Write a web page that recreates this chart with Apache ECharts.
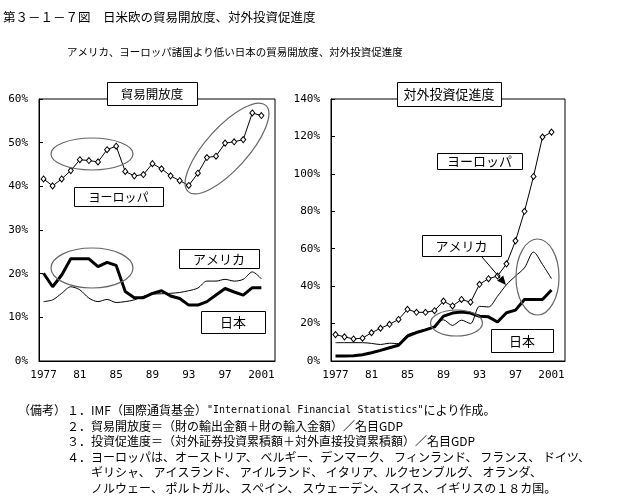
<!DOCTYPE html>
<html><head><meta charset="utf-8">
<script src="https://cdn.jsdelivr.net/npm/echarts@6/dist/echarts.min.js"></script>
<style>html,body{margin:0;padding:0;background:#fff}#c{width:641px;height:496px}</style>
</head><body><div id="c"></div>
<script>
var years = [];
for (var y = 1977; y <= 2002; y++) years.push(String(y));
var yTicksTrade = [0, 60, 10];
var yTicksInv = [0, 140, 20];

// 貿易開放度 (%)
var tradeEurope = [41.7,40.1,41.7,43.6,46.1,45.9,45.6,48.4,49.2,43.4,42.4,42.7,45.2,44.0,42.4,41.3,40.2,43.0,46.6,46.9,49.9,50.2,50.7,56.8,56.2];
var tradeUSA    = [13.6,14.0,15.5,17.0,16.3,14.4,13.6,14.1,13.4,13.6,14.0,14.8,15.3,15.4,15.5,15.7,16.1,16.7,18.3,18.3,18.7,18.3,18.7,20.4,18.8];
var tradeJapan  = [20.1,17.0,19.7,23.4,23.4,23.4,21.6,22.6,21.9,15.9,14.5,14.5,15.5,16.1,14.9,14.3,12.8,12.8,13.6,15.1,16.6,15.8,15.1,16.8,16.8];

// 対外投資促進度 (%)
var invEurope = [14.1,12.9,11.8,12.2,15.1,17.5,19.6,22.2,27.6,26.0,26.0,26.9,32.0,29.4,32.9,31.4,41.0,44.0,45.4,51.9,64.2,80.0,98.6,119.7,122.3];
var invUSA    = [9.8,9.8,9.8,9.8,9.4,8.8,9.5,9.3,14.0,15.6,17.0,18.6,22.0,19.0,21.8,20.0,29.2,28.9,34.6,40.8,45.4,49.8,58.2,51.6,44.0];
var invJapan  = [2.7,2.7,2.8,3.3,4.4,5.7,7.1,8.4,13.3,15.2,16.6,18.2,24.0,25.6,26.2,25.6,23.9,23.6,20.8,25.8,27.2,32.9,32.9,32.9,37.9];

var CJK = '"Noto Sans CJK JP", sans-serif';
var MONO = '"DejaVu Sans Mono", monospace';

function xAxis(gi) {
  return {
    type: 'category', gridIndex: gi, data: years, boundaryGap: true,
    axisLine: {lineStyle: {color: '#000', width: 1}},
    axisTick: {inside: true, length: 4, interval: 0, lineStyle: {color: '#000'}},
    axisLabel: {interval: 3, margin: 9, color: '#000', fontFamily: MONO, fontSize: 11,
      formatter: function (v) { return (v === '1977' || v === '2001') ? v : v.slice(2); }}
  };
}
function yAxis(gi, t) {
  return {
    type: 'value', gridIndex: gi, min: t[0], max: t[1], interval: t[2],
    splitLine: {show: false},
    axisLine: {show: true, lineStyle: {color: '#000', width: 1}},
    axisTick: {show: true, inside: true, length: 4, lineStyle: {color: '#000'}},
    axisLabel: {margin: 11, color: '#000', fontFamily: MONO, fontSize: 11, formatter: '{value}%'}
  };
}
function euro(data, xi) {
  return {type: 'line', xAxisIndex: xi, yAxisIndex: xi, data: data, symbol: 'diamond', symbolSize: [5, 6],
    showSymbol: true, showAllSymbol: true, itemStyle: {color: '#fff', borderColor: '#000', borderWidth: 1},
    lineStyle: {color: '#000', width: 1}, z: 4, animation: false};
}
function usa(data, xi) {
  return {type: 'line', xAxisIndex: xi, yAxisIndex: xi, data: data, symbol: 'none', smooth: 0.3,
    lineStyle: {color: '#000', width: 1}, z: 3, animation: false};
}
function jp(data, xi) {
  return {type: 'line', xAxisIndex: xi, yAxisIndex: xi, data: data, symbol: 'none',
    lineStyle: {color: '#000', width: 3}, z: 3, animation: false};
}

function txt(x, y, s, size, align, fam) {
  return {type: 'text', x: x, y: y, z: 110,
    style: {text: s, fill: '#000', font: size + 'px ' + (fam || CJK), align: align || 'left', verticalAlign: 'middle',
      textAlign: align || 'left', textVerticalAlign: 'middle'}};
}
function box(x1, y1, x2, y2, label, size) {
  return [
    {type: 'rect', z: 100, shape: {x: x1 + 0.5, y: y1 + 0.5, width: x2 - x1, height: y2 - y1},
      style: {fill: '#fff', stroke: '#000', lineWidth: 1}},
    txt((x1 + x2) / 2, (y1 + y2) / 2 + 0.5, label, size, 'center')
  ];
}
function ell(cx, cy, rx, ry, rotDeg) {
  return {type: 'ellipse', z: 90, x: cx, y: cy, rotation: (rotDeg || 0) * Math.PI / 180,
    shape: {cx: 0, cy: 0, rx: rx, ry: ry}, style: {fill: 'none', stroke: '#666', lineWidth: 1.2}};
}
function arrow(x1, y1, x2, y2) {
  var dx = x2 - x1, dy = y2 - y1, L = Math.sqrt(dx * dx + dy * dy), ux = dx / L, uy = dy / L;
  var bx = x2 - ux * 9, by = y2 - uy * 9, px = -uy * 4, py = ux * 4;
  return [
    {type: 'line', z: 95, shape: {x1: x1, y1: y1, x2: bx, y2: by}, style: {stroke: '#000', lineWidth: 1}},
    {type: 'polygon', z: 95, shape: {points: [[x2, y2], [bx + px, by + py], [bx - px, by - py]]}, style: {fill: '#000'}}
  ];
}

var g = [];
g.push(txt(3, 17, '第３－１－７図　日米欧の貿易開放度、対外投資促進度', 12.5));
g.push(txt(67, 52, 'アメリカ、ヨーロッパ諸国より低い日本の貿易開放度、対外投資促進度', 10.5));
g = g.concat(box(107, 82, 197, 105, '貿易開放度', 12.5));
g = g.concat(box(397, 82, 501, 106, '対外投資促進度', 13));
g = g.concat(box(74, 187, 163, 206, 'ヨーロッパ', 12));
g = g.concat(box(179, 249, 259, 268, 'アメリカ', 13));
g = g.concat(box(201, 311, 265, 333, '日本', 13));
g = g.concat(box(437, 153, 522, 169, 'ヨーロッパ', 13));
g = g.concat(box(422, 235, 501, 256, 'アメリカ', 13));
g = g.concat(box(491, 329, 553, 352, '日本', 13));
g.push(ell(92, 154, 41, 16));
g.push(ell(92, 268, 41, 20));
g.push(ell(227, 148.5, 58, 21, 48));
g.push(ell(456.5, 323, 26, 13));
g.push(ell(537.5, 277, 21.5, 38));
g = g.concat(arrow(482, 257, 506, 285));

var NS = 12;
g.push(txt(18, 410, '（備考）', NS));
g.push({type: 'text', x: 67, y: 410, z: 110,
  style: {text: '{a|１．IMF（国際通貨基金）}{b|"International Financial Statistics"}{a|により作成。}',
    verticalAlign: 'middle', textVerticalAlign: 'middle', align: 'left', fill: '#000',
    rich: {a: {fontFamily: CJK, fontSize: NS, fill: '#000'}, b: {fontFamily: MONO, fontSize: 10, fill: '#000'}}}});
var notes = [
  ['２．貿易開放度＝（財の輸出金額＋財の輸入金額）／名目GDP', 67, 426],
  ['３．投資促進度＝（対外証券投資累積額＋対外直接投資累積額）／名目GDP', 67, 441],
  ['４．ヨーロッパは、オーストリア、 ベルギー、デンマーク、 フィンランド、 フランス、 ドイツ、', 67, 457],
  ['ギリシャ、 アイスランド、 アイルランド、 イタリア、ルクセンブルグ、 オランダ、', 91, 472],
  ['ノルウェー、 ポルトガル、 スペイン、 スウェーデン、 スイス、イギリスの１８カ国。', 91, 488]
];
notes.forEach(function (n) { g.push(txt(n[1], n[2], n[0], NS)); });

var chart = echarts.init(document.getElementById('c'), null, {renderer: 'canvas'});
chart.setOption({
  animation: false,
  backgroundColor: '#fff',
  grid: [
    {left: 39, top: 99, width: 236, height: 262, show: true, borderColor: '#000', borderWidth: 1, backgroundColor: 'transparent'},
    {left: 331, top: 99, width: 234, height: 262, show: true, borderColor: '#000', borderWidth: 1, backgroundColor: 'transparent'}
  ],
  xAxis: [xAxis(0), xAxis(1)],
  yAxis: [yAxis(0, yTicksTrade), yAxis(1, yTicksInv)],
  series: [euro(tradeEurope, 0), usa(tradeUSA, 0), jp(tradeJapan, 0),
           euro(invEurope, 1), usa(invUSA, 1), jp(invJapan, 1)],
  graphic: {elements: g}
});
</script></body></html>
